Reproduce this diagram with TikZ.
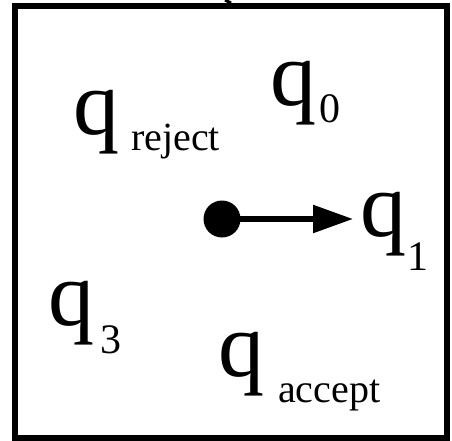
\documentclass[tikz,border=0pt]{standalone}
\usepackage{fontspec}
\setmainfont{Liberation Serif}
\usetikzlibrary{arrows.meta}
\begin{document}
\begin{tikzpicture}[x=1pt,y=-1pt,
  big/.style={anchor=base west,inner sep=0pt,font=\fontsize{92}{92}\selectfont},
  sub/.style={anchor=base west,inner sep=0pt,font=\fontsize{40}{40}\selectfont},
  dig/.style={anchor=base west,inner sep=0pt,font=\fontsize{42}{42}\selectfont},
  dotnode/.style={circle,fill=black,inner sep=0pt,minimum size=37pt},
  arr/.style={line width=5.5pt,-{Triangle[length=40pt,width=27pt]}}]
\useasboundingbox (0,0) rectangle (452,441);
\draw[line width=6pt] (15,6) rectangle (447,438);
\draw[line width=3pt] (225,0) -- (231,3);
\node[big] (qrej) at (73,135) {q};
\node[sub] (qrejs) at (131,150) {reject};
\node[big] (q0) at (270,106) {q};
\node[dig] (q0s) at (319,123) {0};
\node[big] (q1) at (360,236) {q};
\node[dig] (q1s) at (407,270) {1};
\node[big] (q3) at (48,325) {q};
\node[dig] (q3s) at (100,353) {3};
\node[big] (qacc) at (218,376) {q};
\node[sub] (qaccs) at (278,402) {accept};
\node[dotnode] (dot) at (222,219) {};
\draw[arr] (dot.center) -- ([xshift=-7pt]dot -| q1.west);
\end{tikzpicture}
\end{document}
